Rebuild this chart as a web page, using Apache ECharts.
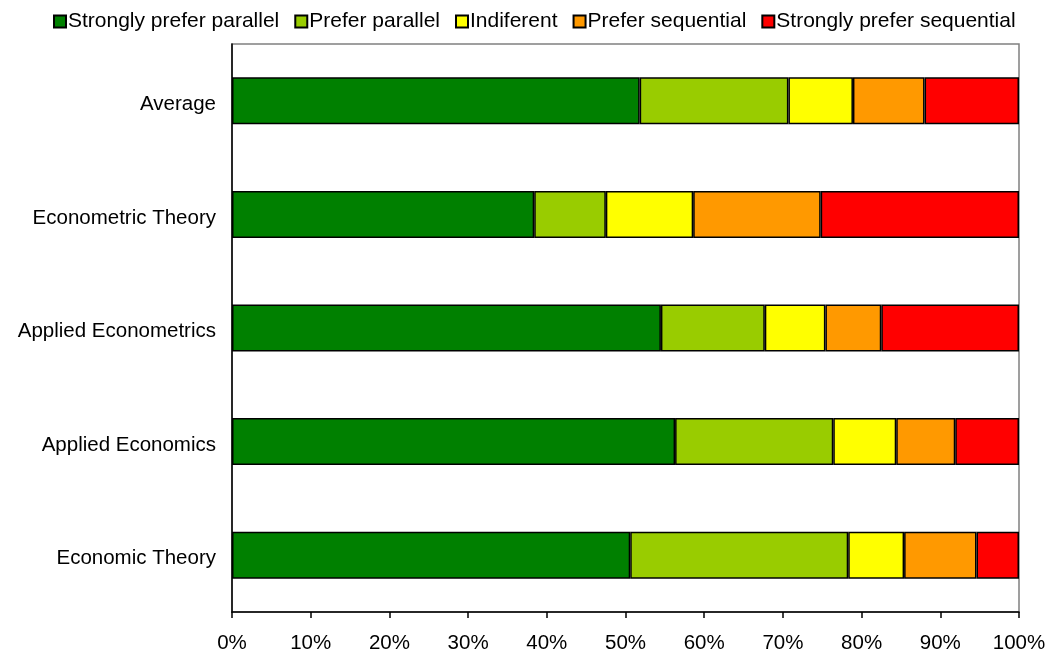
<!DOCTYPE html>
<html>
<head>
<meta charset="utf-8">
<script src="https://cdn.jsdelivr.net/npm/echarts@6/dist/echarts.min.js"></script>
<style>html,body{margin:0;padding:0;background:#fff}#c{width:1051px;height:654px}</style>
</head>
<body>
<div id="c"></div>
<script>
const categories = ["Average", "Econometric Theory", "Applied Econometrics", "Applied Economics", "Economic Theory"];
const seriesNames = ["Strongly prefer parallel", "Prefer parallel", "Indiferent", "Prefer sequential", "Strongly prefer sequential"];
const stronglyParallel = [51.8, 38.4, 54.5, 56.3, 50.6];
const preferParallel = [18.9, 9.1, 13.2, 20.1, 27.7];
const indifferent = [8.2, 11.1, 7.7, 8.0, 7.1];
const preferSequential = [9.1, 16.2, 7.1, 7.5, 9.2];
const stronglySequential = [12.0, 25.2, 17.5, 8.1, 5.4];
const colors = ["#008000", "#99cc00", "#ffff00", "#ff9900", "#ff0000"];
const tickLabels = ["0%","10%","20%","30%","40%","50%","60%","70%","80%","90%","100%"];

const values = [stronglyParallel, preferParallel, indifferent, preferSequential, stronglySequential];
const font = "Liberation Sans, Arial, sans-serif";
const chart = echarts.init(document.getElementById('c'), null, {renderer: 'canvas'});
chart.setOption({
  animation: false,
  backgroundColor: '#fff',
  textStyle: {fontFamily: font},
  legend: {
    top: 6, left: 48,
    itemWidth: 12, itemHeight: 12, itemGap: 15,
    icon: 'rect',
    textStyle: {fontSize: 21, color: '#000', fontFamily: font, padding: [0,0,0,-3]},
    data: seriesNames
  },
  grid: {left: 232, right: 32, top: 44, bottom: 42, show: true, borderColor: '#808080', borderWidth: 1.5},
  xAxis: {
    type: 'value', min: 0, max: 100, interval: 10,
    axisLine: {show: true, lineStyle: {color: '#000', width: 1.5}},
    axisTick: {show: true, length: 6, lineStyle: {color: '#000', width: 1.5}},
    splitLine: {show: false},
    axisLabel: {fontSize: 20.5, color: '#000', margin: 21, fontFamily: font,
      formatter: function(v){ return tickLabels[Math.round(v/10)]; }}
  },
  yAxis: {
    type: 'category', data: categories, inverse: true,
    axisLine: {show: true, lineStyle: {color: '#000', width: 1.5}},
    axisTick: {show: false},
    axisLabel: {color: '#000', margin: 16, fontFamily: font,
      formatter: function(v){ return '{a|' + v + '}'; },
      rich: {a: {fontSize: 20.5, color: '#000', fontFamily: font, padding: [7,0,0,0]}}}
  },
  series: seriesNames.map((n, i) => ({
    name: n, type: 'bar', stack: 'total', data: values[i],
    barWidth: 47,
    itemStyle: {color: colors[i], borderColor: '#000', borderWidth: 1.5}
  }))
});
</script>
</body>
</html>
